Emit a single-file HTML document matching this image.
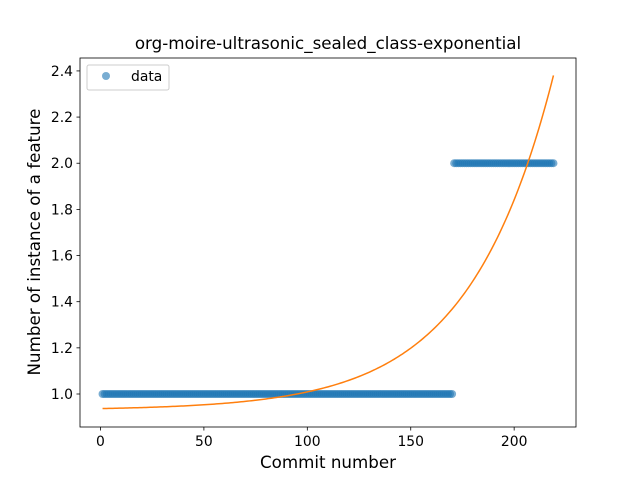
<!DOCTYPE html>
<html><head><meta charset="utf-8"><style>body{margin:0;background:#fff}svg text{font-family:"DejaVu Sans","Liberation Sans",sans-serif}</style></head>
<body>
<svg id="c" width="640" height="480" xmlns="http://www.w3.org/2000/svg"></svg>
<script>
const yValues=[1,1,1,1,1,1,1,1,1,1,1,1,1,1,1,1,1,1,1,1,1,1,1,1,1,1,1,1,1,1,1,1,1,1,1,1,1,1,1,1,1,1,1,1,1,1,1,1,1,1,1,1,1,1,1,1,1,1,1,1,1,1,1,1,1,1,1,1,1,1,1,1,1,1,1,1,1,1,1,1,1,1,1,1,1,1,1,1,1,1,1,1,1,1,1,1,1,1,1,1,1,1,1,1,1,1,1,1,1,1,1,1,1,1,1,1,1,1,1,1,1,1,1,1,1,1,1,1,1,1,1,1,1,1,1,1,1,1,1,1,1,1,1,1,1,1,1,1,1,1,1,1,1,1,1,1,1,1,1,1,1,1,1,1,1,1,1,1,1,1,2,2,2,2,2,2,2,2,2,2,2,2,2,2,2,2,2,2,2,2,2,2,2,2,2,2,2,2,2,2,2,2,2,2,2,2,2,2,2,2,2,2,2,2,2,2,2,2,2];
const fitA=0.00687, fitB=0.02444, fitC=0.93;
const xTicks=[0,50,100,150,200];
const yTicks=[1.0,1.2,1.4,1.6,1.8,2.0,2.2,2.4];
const L=80,R=576,T=58,B=427;
const x0=-9.9,x1=229.9,y0=0.857,y1=2.456;
const sx=v=>L+(v-x0)/(x1-x0)*(R-L);
const sy=v=>B-(v-y0)/(y1-y0)*(B-T);
const svg=document.getElementById('c');const NS='http://www.w3.org/2000/svg';
function mk(t,a,p){const e=document.createElementNS(NS,t);for(const k in a)e.setAttribute(k,a[k]);(p||svg).appendChild(e);return e;}
let e;
e=mk('text',{x:328,y:49,'text-anchor':'middle','font-size':16.7});e.textContent='org-moire-ultrasonic_sealed_class-exponential';


const pts=mk('g',{});


yValues.forEach((v,i)=>{const c=mk('circle',{cx:sx(i+1),cy:sy(v),r:4,fill:'#1f77b4','fill-opacity':0.6},pts);

});
let d='';for(let x=1;x<=219;x++){const y=fitA*Math.exp(fitB*x)+fitC;d+=(x==1?'M':'L')+sx(x).toFixed(2)+','+sy(y).toFixed(2);}
e=mk('path',{d:d,fill:'none',stroke:'#ff7f0e','stroke-width':1.5});


e=mk('rect',{x:L,y:T,width:R-L,height:B-T,fill:'none',stroke:'#000','stroke-width':0.8});


xTicks.forEach(v=>{mk('line',{x1:sx(v),x2:sx(v),y1:B,y2:B+3.5,stroke:'#000','stroke-width':0.8});
const t=mk('text',{x:sx(v),y:B+19,'text-anchor':'middle','font-size':13.9});t.textContent=v;

});
yTicks.forEach(v=>{mk('line',{x1:L-3.5,x2:L,y1:sy(v),y2:sy(v),stroke:'#000','stroke-width':0.8});
const t=mk('text',{x:L-7,y:sy(v)+5,'text-anchor':'end','font-size':13.9});t.textContent=v.toFixed(1);

});
e=mk('text',{x:328,y:468,'text-anchor':'middle','font-size':16.7});e.textContent='Commit number';


e=mk('text',{x:0,y:0,'text-anchor':'middle','font-size':16.7,transform:'translate(40,242) rotate(-90)'});e.textContent='Number of instance of a feature';


const lg=mk('g',{});


mk('rect',{x:87,y:65,width:82,height:25,rx:2,fill:'#fff','fill-opacity':0.8,stroke:'#ccc'},lg);
mk('circle',{cx:106,cy:76,r:4,fill:'#1f77b4','fill-opacity':0.6},lg);
e=mk('text',{x:131,y:81,'font-size':13.9},lg);e.textContent='data';


</script>
</body></html>
